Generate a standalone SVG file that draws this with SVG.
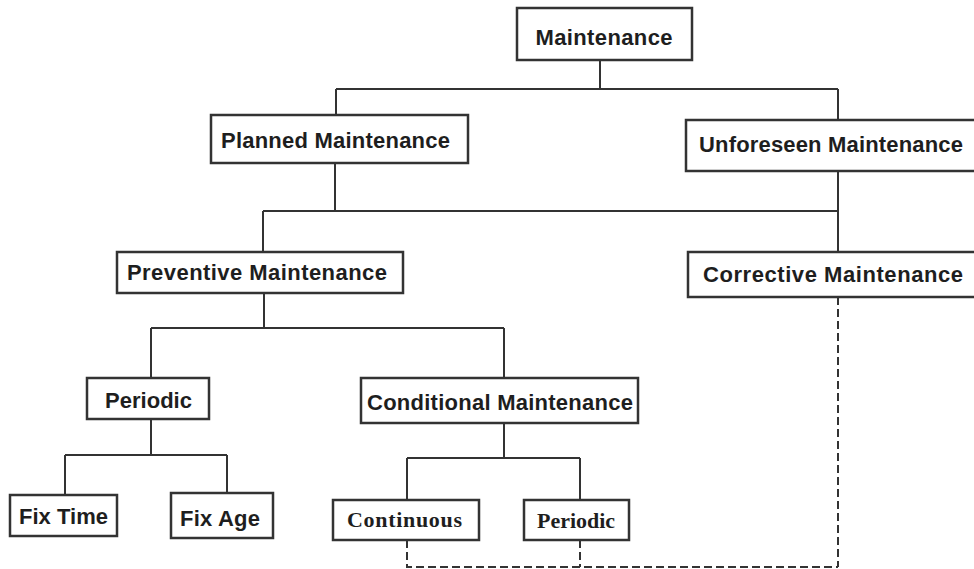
<svg xmlns="http://www.w3.org/2000/svg" width="974" height="569" viewBox="0 0 974 569">
  <style>
    .box { fill: #ffffff; stroke: #333333; stroke-width: 2.5; }
    .lbl { font-family: "Liberation Sans", Arial, sans-serif; font-weight: bold; font-size: 22px; fill: #1e1e1e; }
    .lbl-serif { font-family: "Liberation Serif", "Times New Roman", serif; font-weight: bold; font-size: 22px; fill: #1e1e1e; }
    .link { fill: none; stroke: #333333; stroke-width: 2; }
    .dash { fill: none; stroke: #333333; stroke-width: 2; stroke-dasharray: 8 4; }
  </style>
  <rect width="974" height="569" fill="#ffffff"/>

  <g id="connectors">
    <path class="link" d="M600 60 V89 M336 89 H838 M336 89 V115 M838 89 V120"/>
    <path class="link" d="M335 163 V211 M263 211 H838 M263 211 V252 M838 171 V252"/>
    <path class="link" d="M264 293 V328 M151 328 H504 M151 328 V378 M504 328 V378"/>
    <path class="link" d="M151 419 V455 M65 455 H227 M65 455 V495 M227 455 V493"/>
    <path class="link" d="M504 423 V458 M407 458 H580 M407 458 V500 M580 458 V500"/>
    <path class="dash" d="M407 540 V567 H838 M580 540 V567 M838 297 V567"/>
  </g>

  <g id="maintenance">
    <rect class="box" x="517" y="8" width="175" height="52"/>
    <text class="lbl" x="604" y="45" text-anchor="middle" textLength="137">Maintenance</text>
  </g>
  <g id="planned">
    <rect class="box" x="211" y="115" width="257" height="48"/>
    <text class="lbl" x="221" y="148" textLength="229">Planned Maintenance</text>
  </g>
  <g id="unforeseen">
    <rect class="box" x="686" y="120" width="300" height="51"/>
    <text class="lbl" x="699" y="152" textLength="264">Unforeseen Maintenance</text>
  </g>
  <g id="preventive">
    <rect class="box" x="117" y="252" width="286" height="41"/>
    <text class="lbl" x="127" y="280" textLength="260">Preventive Maintenance</text>
  </g>
  <g id="corrective">
    <rect class="box" x="688" y="252" width="300" height="45"/>
    <text class="lbl" x="703" y="282" textLength="260">Corrective Maintenance</text>
  </g>
  <g id="periodic">
    <rect class="box" x="87" y="378" width="122" height="41"/>
    <text class="lbl" x="105" y="408" textLength="87">Periodic</text>
  </g>
  <g id="conditional">
    <rect class="box" x="361" y="378" width="277" height="45"/>
    <text class="lbl" x="367" y="410" textLength="266">Conditional Maintenance</text>
  </g>
  <g id="fix-time">
    <rect class="box" x="10" y="495" width="107" height="41"/>
    <text class="lbl" x="19" y="524" textLength="89">Fix Time</text>
  </g>
  <g id="fix-age">
    <rect class="box" x="171" y="493" width="102" height="45"/>
    <text class="lbl" x="180" y="526" textLength="80">Fix Age</text>
  </g>
  <g id="continuous">
    <rect class="box" x="333" y="500" width="146" height="40"/>
    <text class="lbl-serif" x="347" y="527" textLength="115">Continuous</text>
  </g>
  <g id="periodic-check">
    <rect class="box" x="524" y="500" width="105" height="40"/>
    <text class="lbl-serif" x="537" y="528" textLength="78">Periodic</text>
  </g>
</svg>
